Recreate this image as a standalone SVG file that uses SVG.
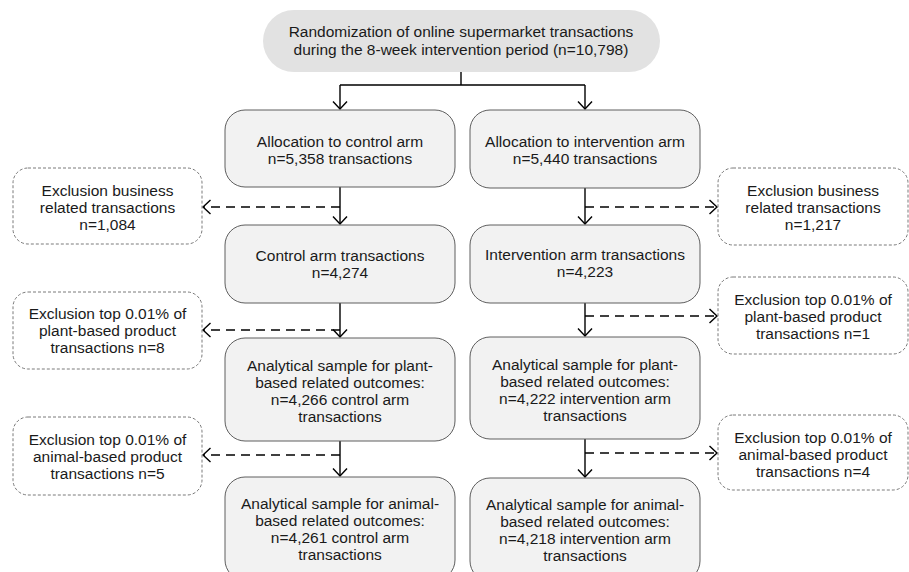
<svg xmlns="http://www.w3.org/2000/svg" width="909" height="572" viewBox="0 0 909 572">
<style>
text{font-family:"Liberation Sans",Arial,sans-serif;font-size:15.5px;fill:#1a1a1a;text-anchor:middle}
.box{fill:#f2f2f2;stroke:#5e5e5e;stroke-width:1}
.top{fill:#e2e2e2;stroke:none}
.exc{fill:#ffffff;stroke:#7a7a7a;stroke-width:1;stroke-dasharray:3 2}
.solid{fill:none;stroke:#000;stroke-width:1.4}
.dash{fill:none;stroke:#000;stroke-width:1.4;stroke-dasharray:9 6}
</style>
<defs>
<marker id="ah" markerUnits="userSpaceOnUse" markerWidth="16" markerHeight="16" viewBox="-8 -8 16 16" refX="0" refY="0" orient="auto">
<path d="M-7.5,-7 L0,0 L-7.5,7" fill="none" stroke="#000" stroke-width="1.4" stroke-dasharray="none"/>
</marker>
</defs>
<rect width="909" height="572" fill="#ffffff"/>
<g id="connectors">
<path class="solid" d="M461,72 V85 M340,85 H585"/>
<path class="solid" d="M340,85 V109" marker-end="url(#ah)"/>
<path class="solid" d="M585,85 V109" marker-end="url(#ah)"/>
<path class="solid" d="M340,187 V224" marker-end="url(#ah)"/>
<path class="solid" d="M340,303 V337" marker-end="url(#ah)"/>
<path class="solid" d="M340,441 V476" marker-end="url(#ah)"/>
<path class="solid" d="M585,188 V224" marker-end="url(#ah)"/>
<path class="solid" d="M585,303 V336" marker-end="url(#ah)"/>
<path class="solid" d="M585,439 V477" marker-end="url(#ah)"/>
<path class="dash" d="M340,207 H203" marker-end="url(#ah)"/>
<path class="dash" d="M340,330 H203" marker-end="url(#ah)"/>
<path class="dash" d="M340,455 H203" marker-end="url(#ah)"/>
<path class="dash" d="M585,207 H717" marker-end="url(#ah)"/>
<path class="dash" d="M585,316 H717" marker-end="url(#ah)"/>
<path class="dash" d="M585,453 H717" marker-end="url(#ah)"/>
</g>
<g id="randomization">
<rect class="top" x="263" y="10" width="397" height="62" rx="31"/>
<text x="461" y="37">Randomization of online supermarket transactions</text>
<text x="461" y="55">during the 8-week intervention period (n=10,798)</text>
</g>
<g id="alloc-control">
<rect class="box" x="225" y="110" width="230" height="77" rx="20"/>
<text x="340" y="146.5">Allocation to control arm</text>
<text x="340" y="163.5">n=5,358 transactions</text>
</g>
<g id="alloc-intervention">
<rect class="box" x="470" y="110" width="230" height="78" rx="20"/>
<text x="585" y="146.5">Allocation to intervention arm</text>
<text x="585" y="163.5">n=5,440 transactions</text>
</g>
<g id="excl-business-control">
<rect class="exc" x="13" y="168" width="189" height="76" rx="15"/>
<text x="107.5" y="196">Exclusion business</text>
<text x="107.5" y="213">related transactions</text>
<text x="107.5" y="230">n=1,084</text>
</g>
<g id="excl-business-intervention">
<rect class="exc" x="718" y="168" width="190" height="77" rx="15"/>
<text x="813" y="195.5">Exclusion business</text>
<text x="813" y="212.5">related transactions</text>
<text x="813" y="229.5">n=1,217</text>
</g>
<g id="control-transactions">
<rect class="box" x="225" y="225" width="230" height="78" rx="20"/>
<text x="340" y="261">Control arm transactions</text>
<text x="340" y="278">n=4,274</text>
</g>
<g id="intervention-transactions">
<rect class="box" x="470" y="225" width="230" height="78" rx="20"/>
<text x="585" y="260">Intervention arm transactions</text>
<text x="585" y="277">n=4,223</text>
</g>
<g id="excl-plant-control">
<rect class="exc" x="13" y="292" width="189" height="77" rx="15"/>
<text x="107.5" y="318.5">Exclusion top 0.01% of</text>
<text x="107.5" y="335.5">plant-based product</text>
<text x="107.5" y="352.5">transactions n=8</text>
</g>
<g id="excl-plant-intervention">
<rect class="exc" x="718" y="277" width="190" height="77" rx="15"/>
<text x="813" y="304.5">Exclusion top 0.01% of</text>
<text x="813" y="321.5">plant-based product</text>
<text x="813" y="338.5">transactions n=1</text>
</g>
<g id="plant-control">
<rect class="box" x="225" y="338" width="230" height="103" rx="20"/>
<text x="340" y="370.5">Analytical sample for plant-</text>
<text x="340" y="387.5">based related outcomes:</text>
<text x="340" y="404.5">n=4,266 control arm</text>
<text x="340" y="421.5">transactions</text>
</g>
<g id="plant-intervention">
<rect class="box" x="470" y="337" width="230" height="102" rx="20"/>
<text x="585" y="369.5">Analytical sample for plant-</text>
<text x="585" y="386.5">based related outcomes:</text>
<text x="585" y="403.5">n=4,222 intervention arm</text>
<text x="585" y="420.5">transactions</text>
</g>
<g id="excl-animal-control">
<rect class="exc" x="13" y="417" width="189" height="78" rx="15"/>
<text x="107.5" y="444.5">Exclusion top 0.01% of</text>
<text x="107.5" y="461.5">animal-based product</text>
<text x="107.5" y="478.5">transactions n=5</text>
</g>
<g id="excl-animal-intervention">
<rect class="exc" x="718" y="415" width="190" height="75" rx="15"/>
<text x="813" y="443">Exclusion top 0.01% of</text>
<text x="813" y="460">animal-based product</text>
<text x="813" y="477">transactions n=4</text>
</g>
<g id="animal-control">
<rect class="box" x="225" y="477" width="230" height="103" rx="20"/>
<text x="340" y="509">Analytical sample for animal-</text>
<text x="340" y="526">based related outcomes:</text>
<text x="340" y="543">n=4,261 control arm</text>
<text x="340" y="560">transactions</text>
</g>
<g id="animal-intervention">
<rect class="box" x="470" y="478" width="230" height="103" rx="20"/>
<text x="585" y="510">Analytical sample for animal-</text>
<text x="585" y="527">based related outcomes:</text>
<text x="585" y="544">n=4,218 intervention arm</text>
<text x="585" y="561">transactions</text>
</g>
</svg>
